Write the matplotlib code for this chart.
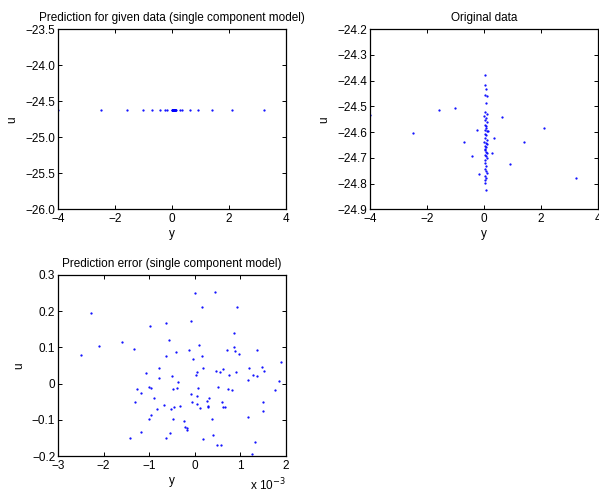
import matplotlib
matplotlib.use("Agg")
import matplotlib.pyplot as plt
from matplotlib.ticker import FuncFormatter

plt.rcParams['font.family'] = ['Liberation Sans', 'DejaVu Sans']
plt.rcParams['font.size'] = 8.5

# Original data: y inputs and u outputs
orig_y = [-4.0, -2.5, -1.58, -1.0, -0.70, -0.42, -0.26, -0.16, 0.14, 0.27, 0.35,
          0.62, 0.91, 1.4, 2.1, 3.22,
          0.05, 0.02, 0.08, 0.03, 0.10, 0.06, 0.04, 0.09, 0.01, 0.07, 0.05, 0.11,
          0.03, 0.06, 0.08, 0.02, 0.12, 0.04, 0.07, 0.05, 0.09, 0.01, 0.06, 0.10,
          0.03, 0.08, 0.05, 0.02, 0.07, 0.11, 0.04, 0.06, 0.09, 0.03, 0.05, 0.08,
          0.02, 0.07, 0.10, 0.04, 0.06, 0.05, 0.03, 0.08]
orig_u = [-24.533, -24.605, -24.513, -24.508, -24.637, -24.691, -24.593, -24.762,
          -24.597, -24.681, -24.624, -24.543, -24.724, -24.640, -24.584, -24.778,
          -24.377, -24.416, -24.433, -24.457, -24.461, -24.487, -24.522, -24.528,
          -24.536, -24.545, -24.552, -24.561, -24.571, -24.578, -24.584, -24.590,
          -24.597, -24.606, -24.613, -24.622, -24.632, -24.638, -24.642, -24.647,
          -24.652, -24.658, -24.664, -24.671, -24.678, -24.683, -24.688, -24.694,
          -24.702, -24.709, -24.720, -24.730, -24.745, -24.752, -24.759, -24.771,
          -24.779, -24.787, -24.797, -24.823]

# Single component model prediction (constant output)
pred_level = -24.625
pred_u = [pred_level] * len(orig_y)

# Prediction error
err_y = [-2.50e-3, -2.28e-3, -2.10e-3, -1.60e-3, -1.34e-3, -1.27e-3, -1.30e-3, -1.17e-3,
         -1.43e-3, -1.17e-3, -1.06e-3, -0.99e-3, -1.00e-3, -0.95e-3, -1.01e-3, -0.97e-3,
         -0.90e-3, -0.83e-3, -0.78e-3, -0.79e-3, -0.68e-3, -0.64e-3, -0.64e-3, -0.64e-3,
         -0.55e-3, -0.56e-3, -0.53e-3, -0.49e-3, -0.47e-3, -0.47e-3, -0.46e-3, -0.41e-3,
         -0.40e-3, -0.36e-3, -0.33e-3, -0.23e-3, -0.22e-3, -0.18e-3, -0.16e-3, -0.12e-3,
         -0.09e-3, -0.08e-3, -0.06e-3, -0.04e-3, 0.01e-3, 0.02e-3, 0.04e-3, 0.05e-3,
         0.05e-3, 0.08e-3, 0.09e-3, 0.11e-3, 0.15e-3, 0.16e-3, 0.17e-3, 0.19e-3,
         0.27e-3, 0.29e-3, 0.31e-3, 0.30e-3, 0.38e-3, 0.39e-3, 0.44e-3, 0.46e-3,
         0.48e-3, 0.52e-3, 0.55e-3, 0.57e-3, 0.59e-3, 0.61e-3, 0.62e-3, 0.67e-3,
         0.70e-3, 0.73e-3, 0.76e-3, 0.82e-3, 0.86e-3, 0.87e-3, 0.89e-3, 0.90e-3,
         0.93e-3, 0.96e-3, 1.17e-3, 1.19e-3, 1.17e-3, 1.25e-3, 1.27e-3, 1.32e-3,
         1.36e-3, 1.37e-3, 1.47e-3, 1.49e-3, 1.50e-3, 1.52e-3, 1.76e-3, 1.85e-3,
         1.89e-3]
err_u = [0.080, 0.196, 0.105, 0.115, 0.096, -0.014, -0.052, -0.025,
         -0.150, -0.135, 0.030, 0.160, -0.009, -0.011, -0.098, -0.087,
         -0.040, -0.071, 0.043, 0.015, -0.059, 0.168, 0.076, -0.149,
         -0.136, 0.120, -0.070, 0.020, -0.016, -0.099, -0.065, 0.087,
         -0.013, 0.005, -0.062, -0.104, -0.120, -0.122, -0.129, 0.094,
         0.172, -0.028, -0.052, 0.067, 0.249, 0.024, -0.057, -0.035,
         0.032, -0.013, 0.106, -0.067, 0.211, 0.075, -0.152, 0.043,
         -0.047, -0.062, -0.039, -0.064, -0.099, -0.141, 0.252, 0.036,
         -0.170, -0.009, 0.032, -0.170, -0.051, 0.039, -0.064, -0.064,
         0.092, -0.016, 0.023, -0.017, 0.140, 0.100, 0.090, 0.031,
         0.212, 0.083, -0.093, 0.044, 0.011, -0.194, 0.024, -0.162,
         0.092, 0.020, 0.046, -0.051, -0.075, 0.036, -0.017, 0.006,
         0.060]

fig = plt.figure(figsize=(5.99, 4.96), dpi=100)

def style(ax):
    ax.tick_params(direction='in', top=True, right=True, length=3, width=0.7,
                   labelsize=8.5)
    ax.tick_params(axis='x', pad=3)
    ax.tick_params(axis='y', pad=2)
    for s in ax.spines.values():
        s.set_linewidth(0.9)
    ax.set_xlabel('y', labelpad=2)
    ax.set_ylabel('u', labelpad=5)

dot = dict(linestyle='none', marker='.', markersize=1.2, color='blue')

ax1 = fig.add_axes([0.0968, 0.578, 0.3806, 0.363])
ax1.plot(orig_y, pred_u, **dot)
ax1.set_xlim(-4, 4)
ax1.set_ylim(-26, -23.5)
ax1.set_xticks([-4, -2, 0, 2, 4])
ax1.set_yticks([-26, -25.5, -25, -24.5, -24, -23.5])
ax1.set_title('Prediction for given data (single component model)', fontsize=8.5, pad=6)
style(ax1)

ax2 = fig.add_axes([0.6177, 0.578, 0.3806, 0.363])
ax2.plot(orig_y, orig_u, **dot)
ax2.set_xlim(-4, 4)
ax2.set_ylim(-24.9, -24.2)
ax2.set_xticks([-4, -2, 0, 2, 4])
ax2.set_yticks([-24.9, -24.8, -24.7, -24.6, -24.5, -24.4, -24.3, -24.2])
ax2.set_title('Original data', fontsize=8.5, pad=6)
style(ax2)

ax3 = fig.add_axes([0.0968, 0.0806, 0.3806, 0.365])
ax3.plot(err_y, err_u, **dot)
ax3.set_xlim(-3e-3, 2e-3)
ax3.set_ylim(-0.2, 0.3)
ax3.set_xticks([-3e-3, -2e-3, -1e-3, 0, 1e-3, 2e-3])
ax3.xaxis.set_major_formatter(FuncFormatter(lambda v, p: f"{v * 1e3:.0f}".replace('-', '\u2212')))
ax3.set_yticks([-0.2, -0.1, 0, 0.1, 0.2, 0.3])
ax3.yaxis.set_major_formatter(FuncFormatter(lambda v, p: ('0' if abs(v) < 1e-12 else f"{v:.1f}").replace('-', '\u2212')))
ax3.set_title('Prediction error (single component model)', fontsize=8.5, pad=6)
style(ax3)
ax3.text(1.0, -0.115, 'x 10$^{-3}$', transform=ax3.transAxes, ha='right', va='top', fontsize=8.5)

fig.savefig('out.png', dpi=100)
